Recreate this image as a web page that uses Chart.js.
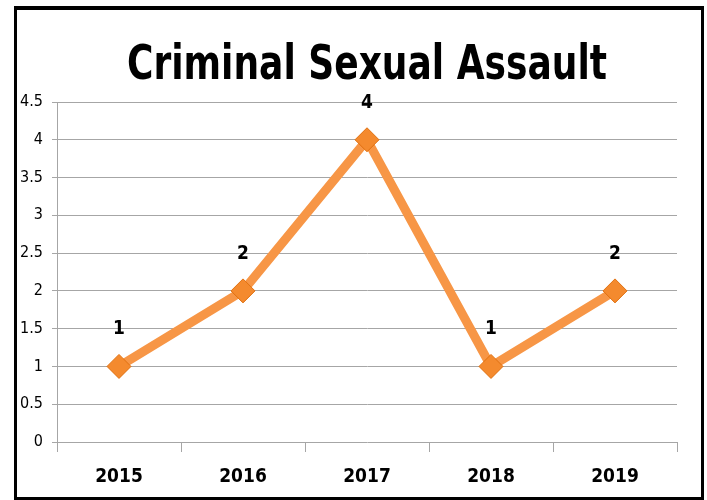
<!DOCTYPE html>
<html>
<head>
<meta charset="utf-8">
<script src="https://cdn.jsdelivr.net/npm/chart.js@4.4.0/dist/chart.umd.min.js"></script>
<style>
  html, body { margin: 0; padding: 0; background: #fff; }
  #wrap { position: relative; width: 707px; height: 500px; }
  #frame { position: absolute; left: 14px; top: 6px; width: 684px; height: 487px; border: 3px solid #000; border-top-width: 4px; pointer-events: none; }
</style>
</head>
<body>
<div id="wrap">
  <canvas id="chart" width="707" height="500"></canvas>
  <div id="frame"></div>
</div>
<script>
// datos del gráfico
const titulo = "Criminal Sexual Assault";
const years = ["2015", "2016", "2017", "2018", "2019"];
const assaults = [1, 2, 4, 1, 2];
const yTicks = [0, 0.5, 1, 1.5, 2, 2.5, 3, 3.5, 4, 4.5];

const FONT = "'DejaVu Sans Condensed', 'Open Sans', sans-serif";

// titulo y etiquetas de valores
const labelsPlugin = {
    id: "labelsPlugin",
    afterDatasetsDraw(chart) {
        const ctx = chart.ctx;
        const area = chart.chartArea;
        ctx.save();
        ctx.fillStyle = "#000";
        ctx.textAlign = "center";
        ctx.textBaseline = "alphabetic";
        // titulo estrecho, ajustado al ancho del original
        ctx.font = "bold 48px " + FONT;
        const w = ctx.measureText(titulo).width;
        const sx = 480 / w;
        ctx.translate((area.left + area.right) / 2, 79);
        ctx.scale(sx, 1);
        ctx.fillText(titulo, 0, 0);
        ctx.restore();

        ctx.save();
        ctx.fillStyle = "#000";
        ctx.textAlign = "center";
        ctx.textBaseline = "middle";
        ctx.font = "bold 19px " + FONT;
        const meta = chart.getDatasetMeta(0);
        meta.data.forEach((pt, i) => {
            ctx.fillText(String(assaults[i]), pt.x, pt.y - 37);
        });
        ctx.restore();
    },
};

new Chart(document.getElementById("chart"), {
    type: "line",
    data: {
        labels: years,
        datasets: [
            {
                data: assaults,
                borderColor: "#F79646",
                borderWidth: 9,
                pointStyle: "rectRot",
                pointRadius: 12,
                pointHoverRadius: 12,
                pointBackgroundColor: "#F48A2E",
                pointBorderColor: "#E0700F",
                pointBorderWidth: 1,
                tension: 0,
            },
        ],
    },
    options: {
        responsive: false,
        animation: false,
        layout: { padding: { top: 102, right: 30, left: 0, bottom: 0 } },
        plugins: {
            legend: { display: false },
            tooltip: { enabled: false },
        },
        scales: {
            x: {
                offset: true,
                grid: {
                    offset: true,
                    drawOnChartArea: false,
                    drawTicks: true,
                    tickLength: 10,
                    color: "#A6A6A6",
                },
                border: { display: false },
                ticks: {
                    color: "#000",
                    padding: 14,
                    font: { family: FONT, size: 19, weight: "bold" },
                },
                afterFit(scale) { scale.height = 58; },
            },
            y: {
                min: 0,
                max: 4.5,
                afterBuildTicks(scale) {
                    scale.ticks = yTicks.map((v) => ({ value: v }));
                },
                grid: { color: "#A6A6A6", tickLength: 5 },
                border: { color: "#A6A6A6" },
                ticks: {
                    color: "#000",
                    padding: 9,
                    font: { family: FONT, size: 16 },
                    callback: (v) => String(v),
                },
                afterFit(scale) { scale.width = 57; },
            },
        },
    },
    plugins: [labelsPlugin],
});
</script>
</body>
</html>
